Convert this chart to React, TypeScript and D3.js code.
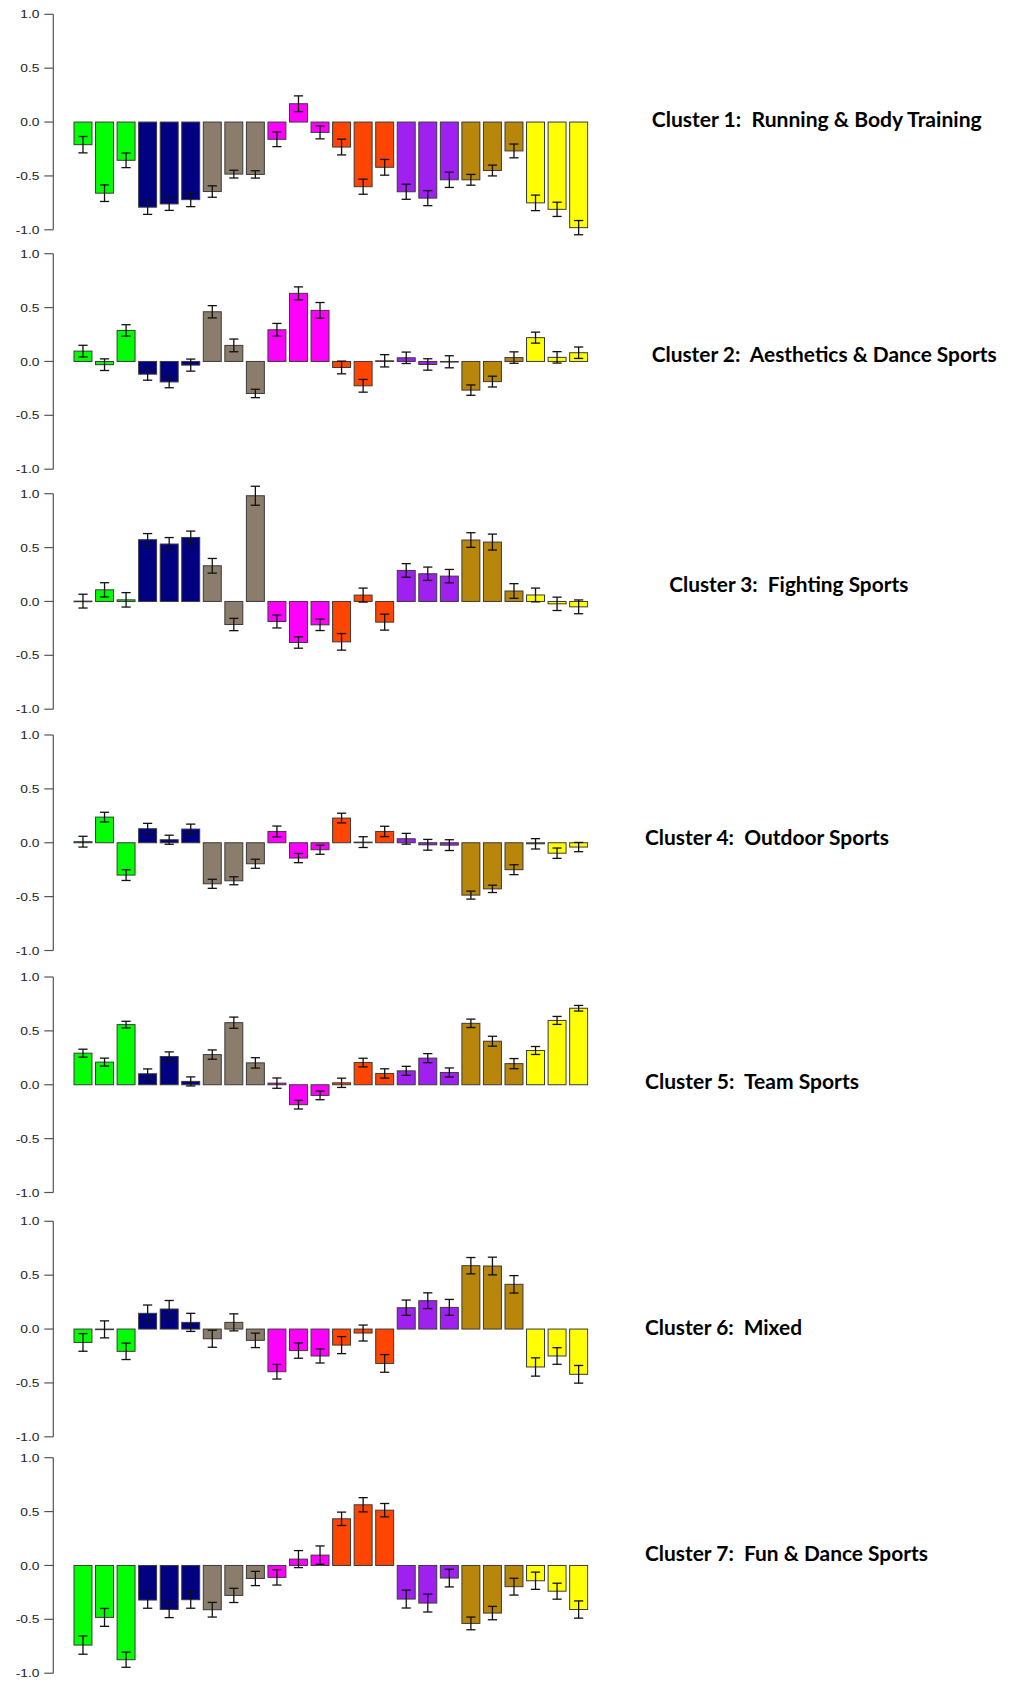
import React from "react";
import * as d3 from "d3";

const groupColors = ["#00FF00", "#000080", "#8B7D6B", "#FF00FF", "#FF4500", "#A020F0", "#B8860B", "#FFFF00"];
const barsPerGroup = 3;
const yTicks = [-1, -0.5, 0, 0.5, 1];

const clusterTitles = [
  "Cluster 1:  Running & Body Training",
  "Cluster 2:  Aesthetics & Dance Sports",
  "Cluster 3:  Fighting Sports",
  "Cluster 4:  Outdoor Sports",
  "Cluster 5:  Team Sports",
  "Cluster 6:  Mixed",
  "Cluster 7:  Fun & Dance Sports",
];

const cluster1Values = [-0.21, -0.66, -0.355, -0.79, -0.76, -0.72, -0.645, -0.483, -0.486, -0.16, 0.17, -0.096, -0.232, -0.6, -0.42, -0.647, -0.706, -0.536, -0.536, -0.45, -0.268, -0.75, -0.81, -0.98];
const cluster1Errors = [0.076, 0.077, 0.068, 0.067, 0.06, 0.065, 0.053, 0.036, 0.034, 0.068, 0.073, 0.06, 0.073, 0.07, 0.073, 0.07, 0.07, 0.071, 0.05, 0.05, 0.064, 0.072, 0.066, 0.066];

const cluster2Values = [0.096, -0.03, 0.288, -0.118, -0.19, -0.034, 0.461, 0.149, -0.297, 0.294, 0.632, 0.474, -0.056, -0.226, 0.006, 0.034, -0.028, -0.003, -0.266, -0.187, 0.036, 0.221, 0.038, 0.081];
const cluster2Errors = [0.054, 0.054, 0.053, 0.056, 0.054, 0.056, 0.057, 0.059, 0.039, 0.059, 0.06, 0.073, 0.059, 0.059, 0.057, 0.053, 0.053, 0.056, 0.048, 0.05, 0.053, 0.051, 0.053, 0.053];

const cluster3Values = [0.003, 0.108, 0.015, 0.573, 0.533, 0.594, 0.331, -0.214, 0.981, -0.186, -0.381, -0.217, -0.375, 0.059, -0.192, 0.288, 0.257, 0.235, 0.57, 0.551, 0.097, 0.06, -0.022, -0.05];
const cluster3Errors = [0.064, 0.066, 0.067, 0.057, 0.06, 0.059, 0.068, 0.057, 0.088, 0.06, 0.053, 0.053, 0.077, 0.065, 0.074, 0.063, 0.062, 0.062, 0.068, 0.074, 0.068, 0.064, 0.062, 0.064];

const cluster4Values = [0.01, 0.238, -0.3, 0.13, 0.028, 0.127, -0.381, -0.353, -0.195, 0.105, -0.142, -0.065, 0.229, 0.006, 0.105, 0.037, -0.019, -0.022, -0.486, -0.428, -0.25, -0.01, -0.097, -0.04];
const cluster4Errors = [0.05, 0.045, 0.05, 0.05, 0.042, 0.046, 0.042, 0.037, 0.042, 0.05, 0.043, 0.042, 0.045, 0.05, 0.048, 0.05, 0.05, 0.05, 0.037, 0.034, 0.046, 0.048, 0.048, 0.043];

const cluster5Values = [0.293, 0.21, 0.558, 0.102, 0.262, 0.031, 0.28, 0.576, 0.203, 0.015, -0.185, -0.099, 0.018, 0.206, 0.105, 0.129, 0.247, 0.114, 0.57, 0.404, 0.196, 0.318, 0.597, 0.71];
const cluster5Errors = [0.037, 0.037, 0.031, 0.045, 0.043, 0.042, 0.043, 0.052, 0.048, 0.048, 0.04, 0.04, 0.043, 0.04, 0.043, 0.042, 0.042, 0.042, 0.039, 0.046, 0.047, 0.037, 0.037, 0.026];

const cluster6Values = [-0.124, -0.003, -0.207, 0.146, 0.186, 0.062, -0.09, 0.062, -0.105, -0.396, -0.2, -0.25, -0.149, -0.037, -0.319, 0.198, 0.263, 0.201, 0.588, 0.585, 0.415, -0.352, -0.25, -0.42];
const cluster6Errors = [0.082, 0.079, 0.076, 0.077, 0.079, 0.084, 0.079, 0.079, 0.067, 0.068, 0.071, 0.065, 0.079, 0.074, 0.082, 0.071, 0.073, 0.074, 0.076, 0.082, 0.081, 0.085, 0.077, 0.082];

const cluster7Values = [-0.739, -0.482, -0.875, -0.321, -0.408, -0.318, -0.411, -0.278, -0.121, -0.111, 0.059, 0.096, 0.433, 0.563, 0.513, -0.312, -0.349, -0.117, -0.538, -0.442, -0.197, -0.142, -0.239, -0.409];
const cluster7Errors = [0.085, 0.083, 0.07, 0.076, 0.076, 0.079, 0.068, 0.066, 0.066, 0.071, 0.079, 0.085, 0.062, 0.066, 0.062, 0.083, 0.083, 0.082, 0.059, 0.062, 0.078, 0.08, 0.074, 0.08];

const clusterValues = [cluster1Values, cluster2Values, cluster3Values, cluster4Values, cluster5Values, cluster6Values, cluster7Values];
const clusterErrors = [cluster1Errors, cluster2Errors, cluster3Errors, cluster4Errors, cluster5Errors, cluster6Errors, cluster7Errors];

// layout
const W = 1016;
const H = 1681;
const panelTops = [14.3, 253.7, 493.7, 735, 977, 1221.3, 1457.7];
const panelHeight = 215.5;
const axisX = 53.3;
const barStep = 21.55;
const firstBarLeft = 74;
const titleX = [651.7, 651.7, 669.3, 645, 645, 645, 645];
const titleBaseline = [126.7, 361.5, 592, 845, 1089, 1335, 1561];
const titleWidths = [330, 345, 239, 244, 214, 157, 283];

const fmt = (v: number) => d3.format(".1f")(v).replace("\u2212", "-");

function Panel({ idx }: { idx: number }) {
  const values = clusterValues[idx];
  const errors = clusterErrors[idx];
  const top = panelTops[idx];
  const y = d3.scaleLinear().domain([1, -1]).range([top, top + panelHeight]);
  const n = values.length;
  const x = d3
    .scaleBand<number>()
    .domain(d3.range(n))
    .range([firstBarLeft - barStep / 12, firstBarLeft - barStep / 12 + n * barStep])
    .paddingInner(1 / 6)
    .paddingOuter(1 / 12);
  const bw = x.bandwidth();
  const capHalf = 4.6;
  return (
    <g>
      <line x1={axisX} x2={axisX} y1={y(1)} y2={y(-1)} stroke="#555" strokeWidth={1.2} />
      {yTicks.map((t) => (
        <g key={t}>
          <line x1={axisX - 9} x2={axisX} y1={y(t)} y2={y(t)} stroke="#555" strokeWidth={1.2} />
          <text
            transform={`translate(${39.5},${y(t) + 4.1}) scale(1.2,1)`}
            textAnchor="end"
            fontFamily="'Liberation Sans', Arial, sans-serif"
            fontSize={11.5}
            fill="#222"
          >
            {fmt(t)}
          </text>
        </g>
      ))}
      {values.map((v, i) => {
        const x0 = x(i) as number;
        const yTop = y(Math.max(0, v));
        const h = Math.abs(y(v) - y(0));
        return (
          <rect
            key={i}
            x={x0}
            y={yTop}
            width={bw}
            height={Math.max(h, 0.6)}
            fill={groupColors[Math.floor(i / barsPerGroup)]}
            stroke="#3a3a3a"
            strokeWidth={1}
          />
        );
      })}
      {values.map((v, i) => {
        const cx = (x(i) as number) + bw / 2;
        const e = errors[i];
        const y1 = y(v + e);
        const y2 = y(v - e);
        return (
          <g key={"e" + i} stroke="#111" strokeWidth={1.3}>
            <line x1={cx} x2={cx} y1={y1} y2={y2} />
            <line x1={cx - capHalf} x2={cx + capHalf} y1={y1} y2={y1} />
            <line x1={cx - capHalf} x2={cx + capHalf} y1={y2} y2={y2} />
          </g>
        );
      })}
      <text
        x={titleX[idx]}
        y={titleBaseline[idx]}
        fontFamily="Lato, 'Open Sans', sans-serif"
        fontWeight="bold"
        fontSize={20}
        fill="#000"
        textLength={titleWidths[idx]}
        lengthAdjust="spacingAndGlyphs"
        style={{ whiteSpace: "pre" }}
        xmlSpace="preserve"
      >
        {clusterTitles[idx]}
      </text>
    </g>
  );
}

export default function App() {
  return (
    <svg
      width={W}
      height={H}
      viewBox={`0 0 ${W} ${H}`}
      style={{ position: "absolute", left: 0, top: 0, background: "#fff" }}
    >
      <rect x={0} y={0} width={W} height={H} fill="#fff" />
      {clusterValues.map((_, i) => (
        <Panel key={i} idx={i} />
      ))}
    </svg>
  );
}
